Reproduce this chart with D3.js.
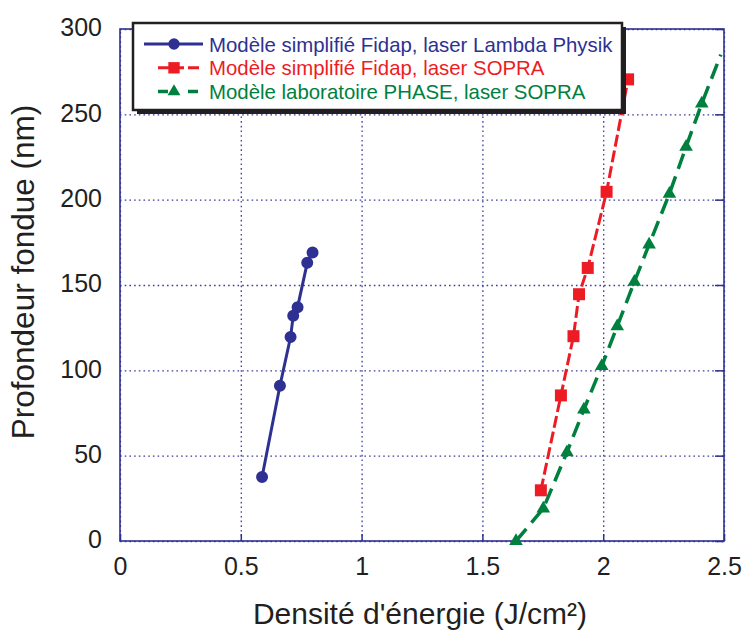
<!DOCTYPE html>
<html>
<head>
<meta charset="utf-8">
<script src="https://cdn.jsdelivr.net/npm/d3@7"></script>
<style>
  body { margin: 0; background: #fff; }
  text { font-family: "Liberation Sans", Arial, Helvetica, sans-serif; fill: #231f20; }
  .grid line { stroke: #3d3f9c; stroke-width: 1.3; stroke-dasharray: 1.6,3.1; }
  .grid path { display: none; }
</style>
</head>
<body>
<svg id="chart" width="745" height="631"></svg>
<script>
// values
var xTicks = [0, 0.5, 1, 1.5, 2, 2.5],
    yTicks = [0, 50, 100, 150, 200, 250, 300];

// Modele simplifie Fidap, laser Lambda Physik
var lambdaX = [0.588, 0.662, 0.706, 0.717, 0.735, 0.775, 0.797],
    lambdaY = [37.5, 91, 119.5, 132, 137, 163, 169];

// Modele simplifie Fidap, laser SOPRA
var sopraX = [1.742, 1.825, 1.877, 1.90, 1.936, 2.014, 2.103],
    sopraY = [29.7, 85.3, 120, 144.6, 160, 204.6, 270.5];

// Modele laboratoire PHASE, laser SOPRA (last point is the line end, no marker)
var phaseX = [1.639, 1.752, 1.850, 1.920, 1.994, 2.058, 2.129, 2.190, 2.274, 2.343, 2.408, 2.487],
    phaseY = [0, 19, 52, 77, 102.5, 125.8, 151.9, 173.7, 203.4, 231, 256.3, 285],
    phaseMarkers = 11;

var seriesNames = ["Modèle simplifié Fidap, laser Lambda Physik",
                   "Modèle simplifié Fidap, laser SOPRA",
                   "Modèle laboratoire PHASE, laser SOPRA"];

var blue = "#2e3192", red = "#ed1c24", green = "#00803e";

function zip(xs, ys) {
    return xs.map(function(x, i) { return { x: x, y: ys[i] }; });
}

var series = [
    { name: seriesNames[0], color: blue, pts: zip(lambdaX, lambdaY), nMark: lambdaX.length,
      dash: null, width: 3, sym: d3.symbolCircle, size: 113 },
    { name: seriesNames[1], color: red, pts: zip(sopraX, sopraY), nMark: sopraX.length,
      dash: "12,4", width: 3, sym: d3.symbolSquare, size: 144 },
    { name: seriesNames[2], color: green, pts: zip(phaseX, phaseY), nMark: phaseMarkers,
      dash: "16,8", width: 3.5, sym: d3.symbolTriangle, size: 80 }
];

var margin = { top: 29, right: 21, bottom: 90, left: 120 },
    width = 745 - margin.left - margin.right,
    height = 631 - margin.top - margin.bottom;

var svg = d3.select("#chart");
var g = svg.append("g")
    .attr("transform", "translate(" + margin.left + "," + margin.top + ")");

var x = d3.scaleLinear().domain([0, 2.5]).range([0, width]);
var y = d3.scaleLinear().domain([0, 300]).range([height, 0]);

// grid
g.append("g").attr("class", "grid")
    .call(d3.axisLeft(y).tickValues(yTicks).tickSize(-width).tickFormat(""));
g.append("g").attr("class", "grid")
    .attr("transform", "translate(0," + height + ")")
    .call(d3.axisBottom(x).tickValues(xTicks).tickSize(-height).tickFormat(""));

// inner ticks on right and bottom
g.append("g").attr("transform", "translate(" + width + ",0)")
    .call(d3.axisRight(y).tickValues(yTicks).tickSize(-9).tickFormat(""))
    .call(function(a) { a.select(".domain").remove(); a.selectAll("line").attr("stroke", blue).attr("stroke-width", 1.5); });
g.append("g").attr("transform", "translate(0," + height + ")")
    .call(d3.axisBottom(x).tickValues(xTicks).tickSize(-7).tickFormat(""))
    .call(function(a) { a.select(".domain").remove(); a.selectAll("line").attr("stroke", blue).attr("stroke-width", 1.5); });

// frame
g.append("rect")
    .attr("width", width).attr("height", height)
    .attr("fill", "none").attr("stroke", blue).attr("stroke-width", 1.6);

// tick labels
g.append("g")
    .call(d3.axisLeft(y).tickValues(yTicks).tickSize(0).tickPadding(18).tickFormat(d3.format("d")))
    .call(function(a) {
        a.select(".domain").remove();
        a.selectAll("text").attr("font-size", 25).attr("dy", "0.27em")
            .style("font-family", "'Liberation Sans', Arial, sans-serif").attr("fill", "#231f20");
    });
g.append("g")
    .attr("transform", "translate(0," + height + ")")
    .call(d3.axisBottom(x).tickValues(xTicks).tickSize(0).tickPadding(16).tickFormat(function(d) { return d; }))
    .call(function(a) {
        a.select(".domain").remove();
        a.selectAll("text").attr("font-size", 25)
            .style("font-family", "'Liberation Sans', Arial, sans-serif").attr("fill", "#231f20");
    });

// axis titles
svg.append("text")
    .attr("x", 420).attr("y", 624)
    .attr("text-anchor", "middle").attr("font-size", 30)
    .text("Densité d'énergie (J/cm²)");
svg.append("text")
    .attr("transform", "translate(34,272) rotate(-90)")
    .attr("text-anchor", "middle").attr("font-size", 31.5)
    .text("Profondeur fondue (nm)");

// series
var line = d3.line().x(function(d) { return x(d.x); }).y(function(d) { return y(d.y); });

series.forEach(function(s) {
    g.append("path")
        .datum(s.pts)
        .attr("d", line)
        .attr("fill", "none")
        .attr("stroke", s.color)
        .attr("stroke-width", s.width)
        .attr("stroke-dasharray", s.dash);
    g.selectAll(null)
        .data(s.pts.slice(0, s.nMark))
      .enter().append("path")
        .attr("d", d3.symbol().type(s.sym).size(s.size))
        .attr("transform", function(d) { return "translate(" + x(d.x) + "," + y(d.y) + ")"; })
        .attr("fill", s.color);
});

// legend
var leg = svg.append("g").attr("transform", "translate(133,23)");
leg.append("rect")
    .attr("x", 4).attr("y", 4).attr("width", 489).attr("height", 87)
    .attr("fill", "#231f20");
leg.append("rect")
    .attr("x", 0).attr("y", 0).attr("width", 489).attr("height", 87)
    .attr("fill", "#fff").attr("stroke", "#231f20").attr("stroke-width", 2.5);

var legX1 = [11, 25, 25], legX2 = [70, 69, 69];
series.forEach(function(s, i) {
    var row = leg.append("g").attr("transform", "translate(0," + (21 + i * 23.8) + ")");
    row.append("line")
        .attr("x1", legX1[i]).attr("x2", legX2[i])
        .attr("stroke", s.color).attr("stroke-width", s.width)
        .attr("stroke-dasharray", s.dash ? (i === 1 ? "11,4" : "10,20") : null);
    row.append("path")
        .attr("d", d3.symbol().type(s.sym).size(s.size * 0.9))
        .attr("transform", "translate(41,0)")
        .attr("fill", s.color);
    row.append("text")
        .attr("x", 76).attr("y", 7.5)
        .attr("font-size", 20.4)
        .attr("fill", s.color)
        .style("fill", s.color)
        .text(s.name);
});
</script>
</body>
</html>
